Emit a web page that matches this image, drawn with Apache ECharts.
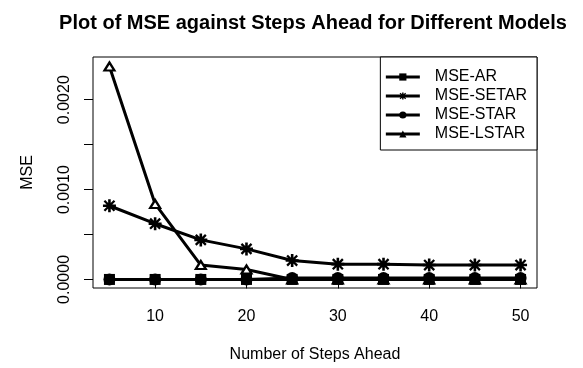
<!DOCTYPE html>
<html>
<head>
<meta charset="utf-8">
<script src="https://cdn.jsdelivr.net/npm/echarts@6/dist/echarts.min.js"></script>
<style>
html,body{margin:0;padding:0;background:#fff;}
#chart{width:583px;height:368px;}
</style>
</head>
<body>
<div id="chart"></div>
<script>
// ---- data ----
var steps = [5, 10, 15, 20, 25, 30, 35, 40, 45, 50];
var mseAR    = [0, 0, 0, 0, 0, 0, 0, 0, 0, 0];
var mseSETAR = [0.00082, 0.00062, 0.00044, 0.00034, 0.00021, 0.00017, 0.00017, 0.00016, 0.00016, 0.00016];
var mseSTAR  = [0, 0, 0, 0, 0.000015, 0.000015, 0.000015, 0.000015, 0.000015, 0.000015];
var mseLSTAR = [0.00237, 0.00084, 0.00016, 0.00011, 0, 0, 0, 0, 0, 0];
var xTicks = [10, 20, 30, 40, 50];
var yTicks = [0, 0.0005, 0.001, 0.0015, 0.002];
var yLabels = [0, 0.001, 0.002];

var FONT = '"Liberation Sans", Arial, sans-serif';
var starPath = 'path://M0,8 H20 V12 H0 Z M8,0 H12 V20 H8 Z M1,3.5 L3.5,1 L19,16.5 L16.5,19 Z M16.5,1 L19,3.5 L3.5,19 L1,16.5 Z';

function pairs(vals){ return steps.map(function(s,i){ return [s, vals[i]]; }); }

var chart = echarts.init(document.getElementById('chart'), null, {renderer:'canvas'});
chart.setOption({
  animation: false,
  backgroundColor: '#fff',
  title: {
    text: 'Plot of MSE against Steps Ahead for Different Models',
    left: 308, top: 8, textAlign: 'center',
    textStyle: {fontFamily: FONT, fontWeight: 'bold', fontSize: 20, color: '#000'}
  },
  grid: {
    left: 93, right: 46, top: 57, bottom: 79,
    show: true, borderColor: '#000', borderWidth: 1, backgroundColor: 'transparent'
  },
  legend: {
    orient: 'vertical', right: 46, top: 57,
    backgroundColor: '#fff', borderColor: '#000', borderWidth: 1, borderRadius: 0,
    padding: [12, 10, 8, 4], itemGap: 3, itemWidth: 34, itemHeight: 9,
    itemStyle: {color: '#000', borderColor: '#000', borderWidth: 0},
    lineStyle: {color: '#000', width: 3},
    textStyle: {fontFamily: FONT, fontSize: 16, color: '#000', padding: [0,0,0,10]},
    data: ['MSE-AR', 'MSE-SETAR', 'MSE-STAR', 'MSE-LSTAR']
  },
  xAxis: {
    type: 'value', min: 3.2, max: 51.8,
    name: 'Number of Steps Ahead', nameLocation: 'middle', nameGap: 59,
    nameTextStyle: {fontFamily: FONT, fontSize: 16, color: '#000'},
    axisLine: {show: false},
    splitLine: {show: false},
    axisTick: {show: true, length: 9, lineStyle: {color: '#000', width: 1}, customValues: xTicks},
    axisLabel: {fontFamily: FONT, fontSize: 16, color: '#000', margin: 21, customValues: xTicks}
  },
  yAxis: {
    type: 'value', min: -0.0000952, max: 0.002475,
    name: 'MSE', nameLocation: 'middle', nameGap: 57,
    nameTextStyle: {fontFamily: FONT, fontSize: 16, color: '#000'},
    axisLine: {show: false},
    splitLine: {show: false},
    axisTick: {show: true, length: 9, lineStyle: {color: '#000', width: 1}, customValues: yTicks},
    axisLabel: {fontFamily: FONT, fontSize: 16, color: '#000', margin: 20, rotate: 90,
      customValues: yLabels, formatter: function(v){ return v.toFixed(4); }}
  },
  series: [
    {name: 'MSE-LSTAR', type: 'line', z: 1, data: pairs(mseLSTAR),
     symbol: 'triangle', symbolSize: [10, 8],
     lineStyle: {color: '#000', width: 3},
     itemStyle: {color: '#fff', borderColor: '#000', borderWidth: 2.2}},
    {name: 'MSE-AR', type: 'line', z: 3, data: pairs(mseAR),
     symbol: 'rect', symbolSize: 11,
     lineStyle: {color: '#000', width: 3},
     itemStyle: {color: '#000', borderColor: '#000', borderWidth: 0}},
    {name: 'MSE-SETAR', type: 'line', z: 4, data: pairs(mseSETAR),
     symbol: starPath, symbolSize: 13,
     lineStyle: {color: '#000', width: 3},
     itemStyle: {color: '#000', borderWidth: 0}},
    {name: 'MSE-STAR', type: 'line', z: 5, data: pairs(mseSTAR),
     symbol: 'circle', symbolSize: 12,
     lineStyle: {color: '#000', width: 3},
     itemStyle: {color: '#000', borderColor: '#000', borderWidth: 0}}
  ]
});
</script>
</body>
</html>
